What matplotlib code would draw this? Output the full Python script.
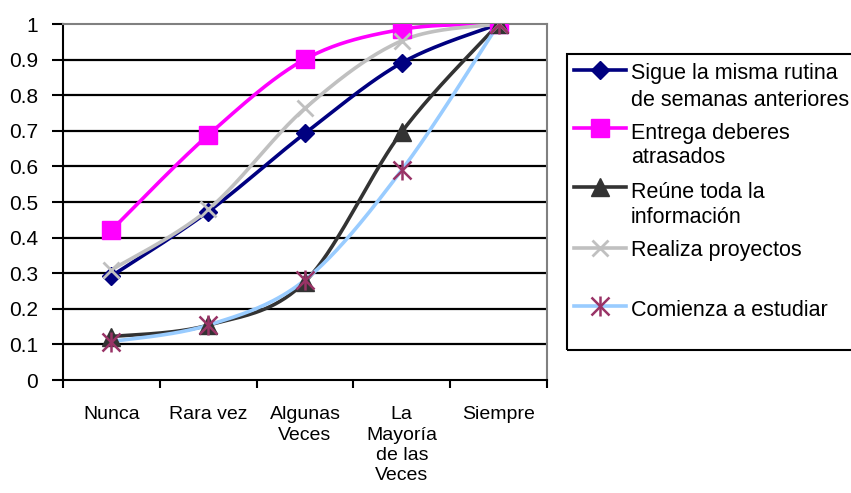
import numpy as np
import matplotlib
matplotlib.use("Agg")
import matplotlib.pyplot as plt
from matplotlib.lines import Line2D
from matplotlib.patches import Rectangle

categories = ["Nunca", "Rara vez", "Algunas\nVeces", "La\nMayoría\nde las\nVeces", "Siempre"]
sigue = [0.292, 0.473, 0.693, 0.891, 1.0]
entrega = [0.421, 0.688, 0.901, 0.985, 1.0]
reune = [0.122, 0.154, 0.276, 0.697, 1.0]
realiza = [0.309, 0.479, 0.763, 0.953, 1.0]
comienza = [0.108, 0.154, 0.281, 0.590, 1.0]
y_ticks = [0, 0.1, 0.2, 0.3, 0.4, 0.5, 0.6, 0.7, 0.8, 0.9, 1]
y_tick_labels = ["0", "0.1", "0.2", "0.3", "0.4", "0.5", "0.6", "0.7", "0.8", "0.9", "1"]
labels = ["Sigue la misma rutina\nde semanas anteriores", "Entrega deberes\natrasados",
          "Reúne toda la\ninformación", "Realiza proyectos", "Comienza a estudiar"]

plt.rcParams['font.family'] = ['Liberation Sans', 'DejaVu Sans']

W, H = 851, 493
fig = plt.figure(figsize=(W / 100, H / 100), dpi=100)
ax = fig.add_axes([63 / W, 1 - 380 / H, (547 - 63) / W, (380 - 24) / H])


def smooth(xs, ys, n=40):
    pts = np.column_stack([xs, ys]).astype(float)
    ext = np.vstack([pts[0], pts, pts[-1]])
    out = []
    for i in range(len(pts) - 1):
        p0, p1, p2, p3 = ext[i], ext[i + 1], ext[i + 2], ext[i + 3]
        c1 = p1 + (p2 - p0) / 6.0
        c2 = p2 - (p3 - p1) / 6.0
        t = np.linspace(0, 1, n)[:, None]
        seg = ((1 - t) ** 3) * p1 + 3 * ((1 - t) ** 2) * t * c1 + 3 * (1 - t) * t ** 2 * c2 + t ** 3 * p2
        out.append(seg if i == 0 else seg[1:])
    out = np.vstack(out)
    return out[:, 0], out[:, 1]


x = np.arange(len(categories))

# gridlines
for yv in y_ticks[1:-1]:
    ax.axhline(yv, color='black', lw=1.6, zorder=1)

styles = [
    dict(data=sigue, color='#000080', marker='D', ms=9, mc='#000080'),
    dict(data=entrega, color='#FF00FF', marker='s', ms=13, mc='#FF00FF'),
    dict(data=reune, color='#333333', marker='^', ms=13, mc='#333333'),
    dict(data=realiza, color='#C0C0C0', marker='x', ms=12, mc='#C0C0C0'),
    dict(data=comienza, color='#99CCFF', marker='star', ms=13, mc='#993366'),
]

for s in styles:
    sx, sy = smooth(x, s['data'])
    ax.plot(sx, sy, color=s['color'], lw=2.6, zorder=3, solid_capstyle='round')
    if s['marker'] == 'star':
        ax.plot(x, s['data'], ls='none', marker='x', ms=s['ms'], mew=1.8, color=s['mc'], zorder=4)
        ax.plot(x, s['data'], ls='none', marker='|', ms=s['ms'] * 1.1, mew=1.8, color=s['mc'], zorder=4)
    elif s['marker'] == 'x':
        ax.plot(x, s['data'], ls='none', marker='x', ms=s['ms'], mew=2.0, color=s['mc'], zorder=4)
    else:
        ax.plot(x, s['data'], ls='none', marker=s['marker'], ms=s['ms'], mfc=s['mc'], mec=s['mc'], zorder=4)

ax.set_xlim(-0.5, len(categories) - 0.5)
ax.set_ylim(0, 1)
ax.set_yticks(y_ticks)
ax.set_yticklabels(y_tick_labels, fontsize=15)
ax.tick_params(axis='y', direction='out', length=8, width=1.5, pad=10, colors='black')

ax.set_xticks(np.arange(-0.5, len(categories), 1.0))
ax.set_xticklabels([])
ax.set_xticks(x, minor=True)
ax.set_xticklabels(categories, minor=True, fontsize=14, linespacing=1.25)
ax.tick_params(axis='x', which='major', direction='out', length=6, width=1.5)
ax.tick_params(axis='x', which='minor', length=0, pad=19)

for side in ['left', 'bottom']:
    ax.spines[side].set_color('black')
    ax.spines[side].set_linewidth(1.5)
for side in ['top', 'right']:
    ax.spines[side].set_color('#808080')
    ax.spines[side].set_linewidth(1.5)
for sp in ax.spines.values():
    sp.set_zorder(2)

# legend (manual, Excel layout)
def fx(px):
    return px / W


def fy(py):
    return 1 - py / H


fig.patches.append(Rectangle((fx(567), fy(350)), fx(860) - fx(567), fy(54) - fy(350),
                             transform=fig.transFigure, fill=False, ec='black', lw=1.5))
sample_y = [70, 128, 187, 248, 306]
baselines = [[79, 106], [139, 163], [198, 223], [256], [316]]
for s, lab, sy_, bl in zip(styles, labels, sample_y, baselines):
    fig.lines.append(Line2D([fx(574), fx(626)], [fy(sy_), fy(sy_)], transform=fig.transFigure,
                            color=s['color'], lw=2.6))
    if s['marker'] == 'star':
        fig.lines.append(Line2D([fx(600)], [fy(sy_)], transform=fig.transFigure, ls='none',
                                marker='x', ms=s['ms'], mew=1.8, color=s['mc']))
        fig.lines.append(Line2D([fx(600)], [fy(sy_)], transform=fig.transFigure, ls='none',
                                marker='|', ms=s['ms'] * 1.1, mew=1.8, color=s['mc']))
    elif s['marker'] == 'x':
        fig.lines.append(Line2D([fx(600)], [fy(sy_)], transform=fig.transFigure, ls='none',
                                marker='x', ms=s['ms'], mew=2.0, color=s['mc']))
    else:
        fig.lines.append(Line2D([fx(600)], [fy(sy_)], transform=fig.transFigure, ls='none',
                                marker=s['marker'], ms=s['ms'], mfc=s['mc'], mec=s['mc']))
    for line_txt, b in zip(lab.split("\n"), bl):
        fig.text(fx(631), fy(b), line_txt, fontsize=15.5, va='baseline', ha='left')

fig.savefig("out.png", dpi=100)
